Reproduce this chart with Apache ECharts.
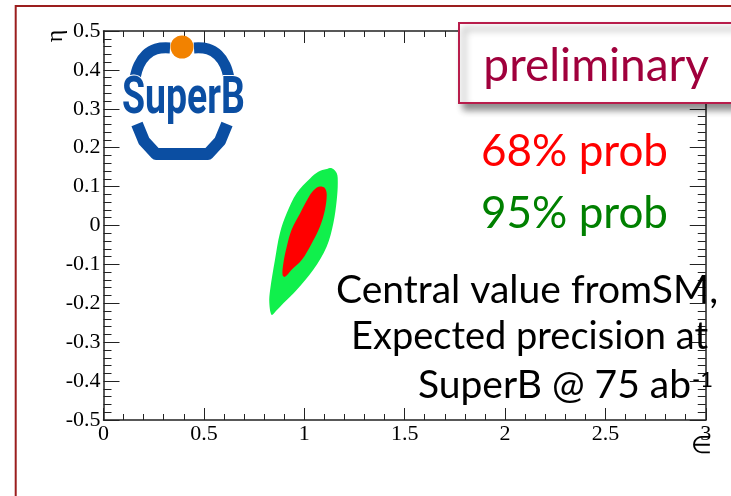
<!DOCTYPE html>
<html><head><meta charset="utf-8">
<script src="https://cdn.jsdelivr.net/npm/echarts@6/dist/echarts.min.js"></script>
<style>html,body{margin:0;padding:0;background:#fff;}#c{width:731px;height:496px;}</style>
</head><body><div id="c"></div>
<script>
// ---- data ----
const X_TICKS = ['0', '0.5', '1', '1.5', '2', '2.5', '3'];
const Y_TICKS = ['-0.5', '-0.4', '-0.3', '-0.2', '-0.1', '0', '0.1', '0.2', '0.3', '0.4', '0.5'];
const X_MIN = 0, X_MAX = 3, X_STEP = 0.5;
const Y_MIN = -0.5, Y_MAX = 0.5, Y_STEP = 0.1;
// 95% probability region boundary (epsilon, eta)
const CONTOUR_95 = [
  [1.137, 0.147], [1.162, 0.134], [1.167, 0.109], [1.162, 0.066], [1.145, 0.006],
  [1.112, -0.054], [1.045, -0.114], [0.962, -0.166], [0.896, -0.200], [0.859, -0.220],
  [0.838, -0.230], [0.826, -0.199], [0.830, -0.166], [0.854, -0.089], [0.879, -0.019],
  [0.913, 0.032], [0.962, 0.083], [1.029, 0.121], [1.070, 0.138], [1.112, 0.145]
];
// 68% probability region boundary (epsilon, eta)
const CONTOUR_68 = [
  [1.078, 0.100], [1.103, 0.096], [1.112, 0.079], [1.103, 0.040], [1.078, -0.003],
  [1.037, -0.046], [0.987, -0.089], [0.937, -0.114], [0.904, -0.132], [0.892, -0.127],
  [0.896, -0.097], [0.913, -0.054], [0.937, -0.011], [0.979, 0.031], [1.029, 0.079],
  [1.054, 0.094]
];
const LEGEND_TEXT = ['68% prob', '95% prob'];
const NOTE_LINES = ['Central value fromSM,', 'Expected precision at', 'SuperB @ 75 ab'];
const NOTE_SUP = '-1';
const BADGE_TEXT = 'preliminary';
const LOGO_TEXT = 'SuperB';
const X_TITLE = '\u2208';
const Y_TITLE = '\u03b7';

// ---- chart ----
const chart = echarts.init(document.getElementById('c'), null, {renderer: 'canvas'});
const AX = '#222';
const labelFont = {fontFamily: 'Liberation Serif', fontSize: 22, color: '#000'};
function axisBase(tickLen, minorLen) {
  return {
    type: 'value',
    splitLine: {show: false},
    axisLine: {show: true, onZero: false, lineStyle: {color: AX, width: 1.5}},
    axisTick: {show: true, inside: true, length: tickLen, lineStyle: {color: AX, width: 1}},
    minorTick: {show: true, splitNumber: 5, length: minorLen, lineStyle: {color: AX, width: 1}},
  };
}
const xFmt = v => X_TICKS[Math.round((v - X_MIN) / X_STEP)];
const yFmt = v => Y_TICKS[Math.round((v - Y_MIN) / Y_STEP)];

function polySeries(pts, color) {
  return {
    type: 'custom',
    xAxisIndex: 0, yAxisIndex: 0,
    data: pts,
    renderItem: function (params, api) {
      if (params.dataIndex !== 0) return null;
      return {
        type: 'polygon',
        shape: {points: pts.map(p => api.coord(p)), smooth: 0.35},
        style: {fill: color, stroke: null}
      };
    },
    silent: true
  };
}

const BLUE = '#0B4EA2';
const option = {
  backgroundColor: '#fff',
  animation: false,
  grid: {left: 103.5, right: 25.25, top: 31, bottom: 76, containLabel: false},
  xAxis: [
    Object.assign(axisBase(12, 6), {position: 'bottom', min: X_MIN, max: X_MAX, interval: X_STEP,
      axisLabel: Object.assign({margin: 3, formatter: xFmt, showMinLabel: true, showMaxLabel: true, hideOverlap: false}, labelFont)}),
    Object.assign(axisBase(12, 6), {position: 'top', min: X_MIN, max: X_MAX, interval: X_STEP, axisLabel: {show: false}})
  ],
  yAxis: [
    Object.assign(axisBase(16, 8), {position: 'left', min: Y_MIN, max: Y_MAX, interval: Y_STEP,
      axisLabel: Object.assign({margin: 3, formatter: yFmt, showMinLabel: true, showMaxLabel: true, hideOverlap: false}, labelFont)}),
    Object.assign(axisBase(16, 8), {position: 'right', min: Y_MIN, max: Y_MAX, interval: Y_STEP, axisLabel: {show: false}})
  ],
  series: [polySeries(CONTOUR_95, '#10F04C'), polySeries(CONTOUR_68, '#FF0000')],
  graphic: {elements: [
    // slide frame
    {type: 'polyline', z: 200, shape: {points: [[15.7, 496], [15.7, 6], [731, 6]]}, style: {stroke: '#9B1E1E', lineWidth: 2, fill: null}},
    // axis titles
    {type: 'text', z: 150, x: 56, y: 36, rotation: Math.PI / 2, style: {text: Y_TITLE, fontFamily: 'Liberation Serif', fontSize: 24, fill: '#000', align: 'center', verticalAlign: 'middle'}},
    {type: 'text', z: 150, x: 701, y: 447, style: {text: X_TITLE, fontFamily: 'Liberation Serif', fontSize: 24, fill: '#000', align: 'center', verticalAlign: 'middle'}},
    // logo
    {type: 'polyline', z: 150, shape: {points: [[170, 48], [156, 49], [146, 55], [139, 65], [135, 78]], smooth: 0.4}, style: {stroke: BLUE, lineWidth: 11, fill: null}},
    {type: 'polyline', z: 150, shape: {points: [[194, 48], [208, 49], [218, 55], [225, 65], [229, 78]], smooth: 0.4}, style: {stroke: BLUE, lineWidth: 11, fill: null}},
    {type: 'polyline', z: 150, shape: {points: [[137, 124], [144, 141], [156, 154], [208, 154], [220, 141], [227, 124]]}, style: {stroke: BLUE, lineWidth: 12, fill: null, lineJoin: 'round'}},
    {type: 'circle', z: 151, shape: {cx: 182, cy: 47, r: 11.5}, style: {fill: '#F28200'}},
    {type: 'text', z: 152, x: 122, y: 100, scaleX: 0.72, style: {text: LOGO_TEXT, fontFamily: 'Roboto', fontWeight: 'bold', fontSize: 52, fill: BLUE, stroke: '#fff', lineWidth: 2, align: 'left', verticalAlign: 'middle'}},
    // preliminary badge
    {type: 'rect', z: 160, shape: {x: 459, y: 23, width: 300, height: 80}, style: {fill: '#fff', stroke: '#B81D4B', lineWidth: 2, shadowBlur: 7, shadowOffsetX: 5, shadowOffsetY: 6, shadowColor: 'rgba(0,0,0,0.45)'}},
    {type: 'text', z: 161, x: 709, y: 66, style: {text: BADGE_TEXT, fontFamily: 'Lato', fontSize: 46, fill: '#A0003C', align: 'right', verticalAlign: 'middle'}},
    // legend-like labels
    {type: 'text', z: 150, x: 668, y: 152, style: {text: LEGEND_TEXT[0], fontFamily: 'Lato', fontSize: 44, fill: '#FF0000', align: 'right', verticalAlign: 'middle'}},
    {type: 'text', z: 150, x: 668, y: 214, style: {text: LEGEND_TEXT[1], fontFamily: 'Lato', fontSize: 44, fill: '#008000', align: 'right', verticalAlign: 'middle'}},
    // note
    {type: 'text', z: 150, x: 718, y: 290, style: {text: NOTE_LINES[0], fontFamily: 'Lato', fontSize: 39, fill: '#000', align: 'right', verticalAlign: 'middle'}},
    {type: 'text', z: 150, x: 708, y: 337, style: {text: NOTE_LINES[1], fontFamily: 'Lato', fontSize: 38, fill: '#000', align: 'right', verticalAlign: 'middle'}},
    {type: 'text', z: 150, x: 691, y: 385, style: {text: NOTE_LINES[2], fontFamily: 'Lato', fontSize: 39, fill: '#000', align: 'right', verticalAlign: 'middle'}},
    {type: 'text', z: 150, x: 692, y: 380, style: {text: NOTE_SUP, fontFamily: 'Lato', fontSize: 22, fill: '#000', align: 'left', verticalAlign: 'middle'}}
  ]}
};
chart.setOption(option);
</script></body></html>
